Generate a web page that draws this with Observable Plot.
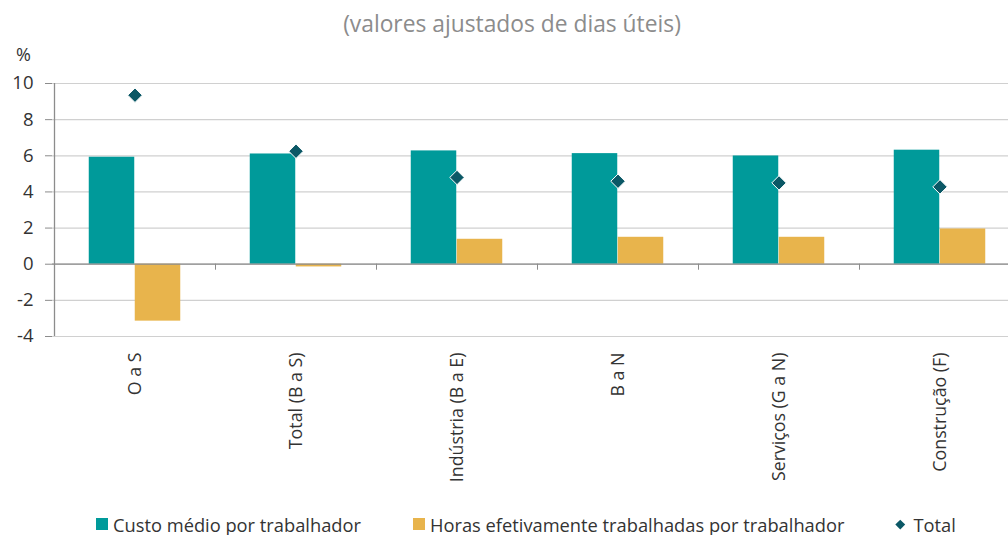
<!DOCTYPE html>
<html>
<head>
<meta charset="utf-8">
<script src="https://cdn.jsdelivr.net/npm/d3@7"></script>
<script src="https://cdn.jsdelivr.net/npm/@observablehq/plot@0.6"></script>
<style>
  html, body { margin: 0; padding: 0; background: #fff; }
  body { width: 1008px; height: 535px; position: relative; font-family: "Open Sans", sans-serif; overflow: hidden; }
  #title { position: absolute; left: 8px; top: 8px; width: 1008px; text-align: center; font-size: 22.8px; color: #8c8c8c; line-height: 32px; z-index: 2; }
  #pct { position: absolute; left: 16px; top: 42px; font-size: 18px; line-height: 24px; color: #333; z-index: 2; }
  #chart { position: absolute; left: 0; top: 45px; z-index: 1; }
  #legend { position: absolute; left: 0; top: 511px; width: 1008px; height: 26px; font-size: 18.3px; color: #333; z-index: 2; }
  .item { position: absolute; top: 0; display: flex; align-items: center; height: 26px; white-space: nowrap; }
  .sw { width: 12px; height: 12px; margin-right: 5px; }
  .dia { width: 6.5px; height: 6.5px; transform: rotate(45deg); margin-right: 10px; margin-left: 1px; }
</style>
</head>
<body>
<div id="title">(valores ajustados de dias úteis)</div>
<div id="chart"></div>
<div id="pct">%</div>
<div id="legend"></div>
<script>
const categories = ["O a S", "Total (B a S)", "Indústria (B a E)", "B a N", "Serviços (G a N)", "Construção (F)"];
const custoMedio = [5.92, 6.10, 6.27, 6.12, 5.99, 6.31];
const horasTrabalhadas = [-3.15, -0.15, 1.38, 1.49, 1.49, 1.95];
const totalValues = [9.35, 6.25, 4.80, 4.59, 4.50, 4.28];
const yTicks = [-4, -2, 0, 2, 4, 6, 8, 10];
const seriesNames = ["Custo médio por trabalhador", "Horas efetivamente trabalhadas por trabalhador", "Total"];
const colors = ["#009a9a", "#e8b44c", "#0b5866"];

const rows = categories.map((c, i) => ({cat: c, custo: custoMedio[i], horas: horasTrabalhadas[i], total: totalValues[i]}));

const W = 1008, H = 460, ML = 52, MR = -13, MT = 38, MB = 169;
const step = (W - ML - MR) / categories.length;
const barW = 46;
const outer = step / 2 - barW;

const axisDecor = (index, scales, values, dimensions) => {
  const g = d3.create("svg:g");
  const y0 = scales.y(0);
  categories.slice(1).forEach(c => {
    const x = Math.round(scales.x(c)) + 0.5;
    g.append("line").attr("x1", x).attr("x2", x).attr("y1", y0).attr("y2", y0 + 6)
      .attr("stroke", "#8c8c8c").attr("stroke-width", 1);
  });
  const xa = Math.round(scales.x(categories[0])) + 0.5;
  g.append("line").attr("x1", xa).attr("x2", xa)
    .attr("y1", scales.y(yTicks[yTicks.length - 1])).attr("y2", scales.y(yTicks[0]))
    .attr("stroke", "#8c8c8c").attr("stroke-width", 1.3);
  return g.node();
};

const chart = Plot.plot({
  width: W, height: H,
  marginLeft: ML, marginRight: MR, marginTop: MT, marginBottom: MB,
  style: {fontFamily: "Open Sans, sans-serif", color: "#333", background: "transparent"},
  x: {domain: categories, padding: 0, axis: null},
  y: {domain: [-4, 10], axis: null},
  marks: [
    Plot.gridY(yTicks, {stroke: "#d0d0d0", strokeOpacity: 1, strokeWidth: 1.2}),
    Plot.barY(rows, {x: "cat", y: "custo", fill: colors[0], insetLeft: outer, insetRight: step / 2}),
    Plot.barY(rows, {x: "cat", y: "horas", fill: colors[1], insetLeft: step / 2, insetRight: outer}),
    Plot.ruleY([0], {stroke: "#8c8c8c", strokeWidth: 1.3}),
    axisDecor,
    Plot.axisY(yTicks, {tickSize: 7, tickPadding: 12, fontSize: 18.5, stroke: "#8c8c8c", fill: "#333", label: null, tickFormat: d => String(d)}),
    Plot.axisX({tickRotate: -90, tickSize: 0, tickPadding: 16, fontSize: 17.8, fill: "#333", label: null}),
    Plot.dot(rows, {x: "cat", y: "total", symbol: "diamond2", r: 6.5, fill: colors[2], stroke: "#fff", strokeWidth: 1})
  ]
});
document.getElementById("chart").appendChild(chart);

const legend = document.getElementById("legend");
const lefts = [96, 413, 896];
seriesNames.forEach((name, i) => {
  const it = document.createElement("div");
  it.className = "item";
  it.style.left = lefts[i] + "px";
  const sw = document.createElement("div");
  sw.className = i === 2 ? "dia" : "sw";
  sw.style.background = colors[i];
  const tx = document.createElement("span");
  tx.textContent = name;
  it.appendChild(sw); it.appendChild(tx);
  legend.appendChild(it);
});
</script>
</body>
</html>
